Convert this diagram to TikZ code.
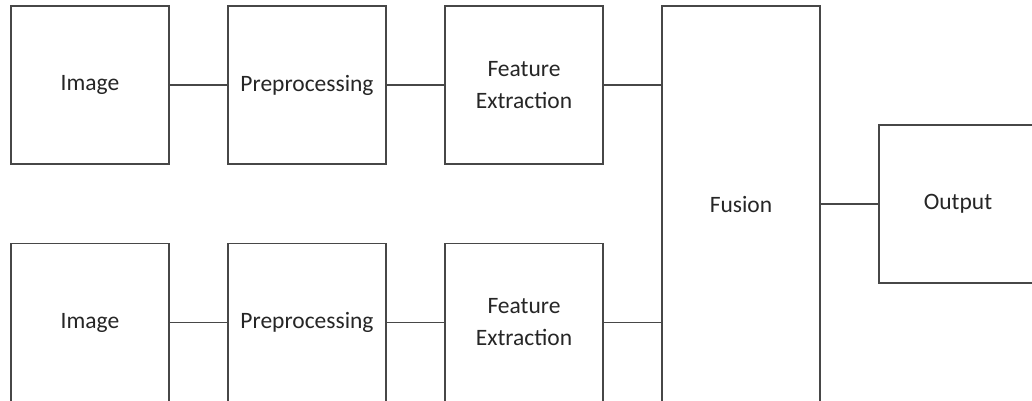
\documentclass[tikz,border=0pt]{standalone}
\usepackage{fontspec}
\setmainfont{Carlito}
\begin{document}
\begin{tikzpicture}[x=1pt,y=1pt,
  block/.style={draw=black!72, line width=1.6pt, fill=white,
    minimum width=158pt, minimum height=158pt, inner sep=0pt,
    align=center, text=black!85, font=\fontsize{23.5}{32}\selectfont},
  link/.style={draw=black!72, line width=1.6pt}]
\useasboundingbox[fill=white] (0,0) rectangle (1032,400);
% upper branch
\node[block] (img1)  at (90,315)  {Image};
\node[block] (pre1)  at (307,315) {Preprocessing};
\node[block] (feat1) at (524,315) {Feature\\Extraction};
% lower branch
\node[block] (img2)  at (90,77.5)  {Image};
\node[block] (pre2)  at (307,77.5) {Preprocessing};
\node[block] (feat2) at (524,77.5) {Feature\\Extraction};
% fusion and output
\node[block, minimum height=397pt] (fus) at (741,195.5) {Fusion};
\node[block] (out) at (958,196) {Output};
% connectors
\draw[link] (img1.east) -- (pre1.west);
\draw[link] (pre1.east) -- (feat1.west);
\draw[link] (feat1.east) -- (feat1.east -| fus.west);
\draw[link] (img2.east) -- (pre2.west);
\draw[link] (pre2.east) -- (feat2.west);
\draw[link] (feat2.east) -- (feat2.east -| fus.west);
\draw[link] (fus.east |- out.west) -- (out.west);
\end{tikzpicture}
\end{document}
